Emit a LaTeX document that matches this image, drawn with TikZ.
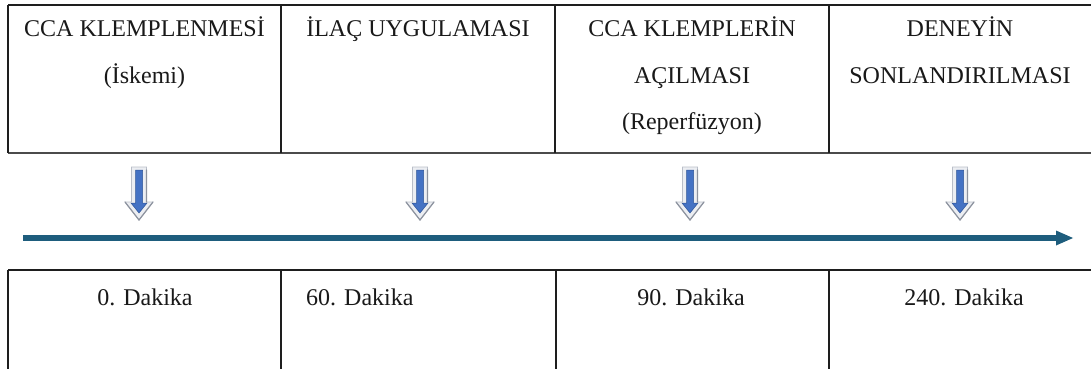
\documentclass[tikz,border=0pt]{standalone}
\usepackage{fontspec}
\setmainfont{Liberation Serif}
\definecolor{linecol}{RGB}{30,30,30}
\definecolor{timecol}{RGB}{30,93,125}
\definecolor{arrblue}{RGB}{68,114,196}
\definecolor{arrblueedge}{RGB}{47,85,151}
\definecolor{arrgray}{RGB}{236,238,242}
\definecolor{arrgrayedge}{RGB}{185,190,200}
\definecolor{arrshade}{RGB}{140,146,158}
\begin{document}
\begin{tikzpicture}[x=1pt,y=-1pt,
  cellline/.style={draw=linecol,line width=1.6pt},
  celltext/.style={font=\fontsize{24}{28}\selectfont,anchor=base,inner sep=0pt,text=black!90},
  downarrow/.pic={
    \fill[arrgray,draw=arrgrayedge,line width=0.6pt]
      (-7.5,-53) -- (7.5,-53) -- (7.5,-18) -- (14,-18) -- (0,0) -- (-14,-18) -- (-7.5,-18) -- cycle;
    \draw[arrshade,line width=1.2pt,line cap=round] (7.5,-50) -- (7.5,-18) (14,-18) -- (0,0) -- (-14,-18);
    \fill[arrblue,draw=arrblueedge,line width=0.5pt]
      (-3.5,-50) -- (3.5,-50) -- (3.5,-17) -- (8,-17) -- (0,-7) -- (-8,-17) -- (-3.5,-17) -- cycle;
  }]
\useasboundingbox (0,0) rectangle (1091,369);
\fill[white] (0,0) rectangle (1091,369);

% top table
\coordinate (t0) at (8,5);
\coordinate (t1) at (1091,5);
\coordinate (b0) at (8,153);
\coordinate (b1) at (1091,153);
\draw[cellline] (t0) -- (t1);
\draw[cellline,draw=linecol!80] (b0) -- (b1);
\draw[cellline] (t0) -- (b0);
\foreach \x/\n in {281/a,555/b,829/c}{
  \coordinate (tv\n) at (\x,5);
  \coordinate (bv\n) at (\x,153);
  \draw[cellline] (tv\n) -- (bv\n);
}

% bottom table
\coordinate (u0) at (8,270);
\coordinate (u1) at (1091,270);
\coordinate (d0) at (8,369);
\draw[cellline] (u0) -- (u1);
\draw[cellline] (u0) -- (d0);
\foreach \x/\n in {281/a,556/b,829/c}{
  \coordinate (uv\n) at (\x,270);
  \coordinate (dv\n) at (\x,369);
  \draw[cellline] (uv\n) -- (dv\n);
}

% header texts
\node[celltext] (h1a) at (144.5,37) {CCA KLEMPLENMESİ};
\node[celltext] (h1b) at (144.5,83) {(İskemi)};
\node[celltext] (h2a) at (418,37) {İLAÇ UYGULAMASI};
\node[celltext] (h3a) at (692,37) {CCA KLEMPLERİN};
\node[celltext] (h3b) at (692,83) {AÇILMASI};
\node[celltext] (h3c) at (692,129) {(Reperfüzyon)};
\node[celltext] (h4a) at (960,37) {DENEYİN};
\node[celltext] (h4b) at (960,83) {SONLANDIRILMASI};

% bottom texts
\node[celltext] (m1) at (145,305) {0. Dakika};
\node[celltext,anchor=base west] (m2) at (306,305) {60. Dakika};
\node[celltext] (m3) at (691,305) {90. Dakika};
\node[celltext] (m4) at (964,305) {240. Dakika};

% down arrows
\foreach \x in {139,420,690,960}{
  \pic at (\x,220) {downarrow};
}

% timeline
\coordinate (tlstart) at (23,238);
\coordinate (tlshaft) at (1058,238);
\coordinate (tlend) at (1073,238);
\draw[timecol,line width=6.5pt] (tlstart) -- (tlshaft);
\fill[timecol] (1056,230.5) -- (tlend) -- (1056,245.5) -- cycle;
\end{tikzpicture}
\end{document}
